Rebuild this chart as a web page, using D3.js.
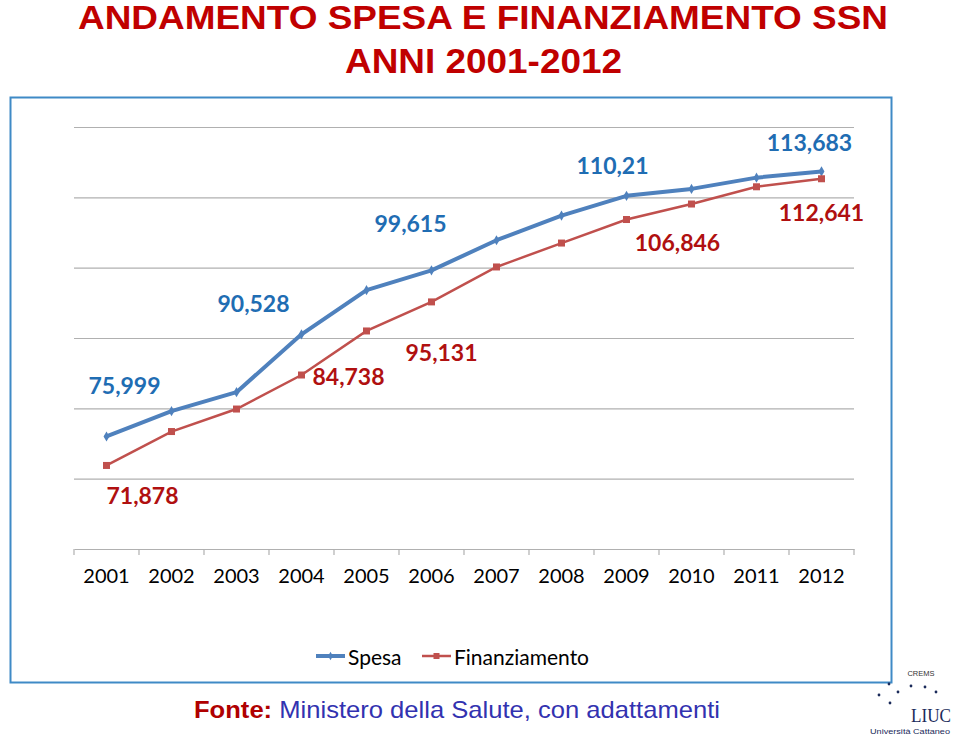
<!DOCTYPE html>
<html><head><meta charset="utf-8">
<script src="https://cdn.jsdelivr.net/npm/d3@7"></script>
<style>html,body{margin:0;padding:0;background:#fff;}svg{display:block;}</style>
</head><body>
<script>
const years = ["2001","2002","2003","2004","2005","2006","2007","2008","2009","2010","2011","2012"];
const spesa = [75.999, 79.6, 82.3, 90.528, 96.8, 99.615, 103.9, 107.4, 110.21, 111.2, 112.8, 113.683];
const finanziamento = [71.878, 76.7, 79.9, 84.738, 91.0, 95.131, 100.1, 103.5, 106.846, 109.05, 111.5, 112.641];
const labelYears = ["2001","2004","2006","2009","2012"];
const yTicks = [60, 70, 80, 90, 100, 110, 120];
const seriesNames = ["Spesa", "Finanziamento"];

const W = 960, H = 741;
const svg = d3.select("body").append("svg").attr("width", W).attr("height", H);

// Title
svg.append("text").attr("x", 78).attr("y", 29)
  .attr("textLength", 810).attr("lengthAdjust", "spacingAndGlyphs")
  .attr("font-family", "Liberation Sans, Arial, sans-serif").attr("font-weight", "bold")
  .attr("font-size", 33).attr("fill", "#C00000")
  .text("ANDAMENTO SPESA E FINANZIAMENTO SSN");
svg.append("text").attr("x", 345).attr("y", 73)
  .attr("textLength", 277).attr("lengthAdjust", "spacingAndGlyphs")
  .attr("font-family", "Liberation Sans, Arial, sans-serif").attr("font-weight", "bold")
  .attr("font-size", 35).attr("fill", "#C00000")
  .text("ANNI 2001-2012");

// Chart frame
svg.append("rect").attr("x", 10.5).attr("y", 97.5).attr("width", 881).attr("height", 585)
  .attr("fill", "#fff").attr("stroke", "#3F8AC6").attr("stroke-width", 2);

const x = d3.scaleBand().domain(years).range([74, 854]).padding(0);
const y = d3.scaleLinear().domain([60, 120]).range([549, 127]);
const cx = d => x(d) + x.bandwidth() / 2;

// Gridlines
const grid = svg.append("g").attr("transform", "translate(74,0)")
  .call(d3.axisLeft(y).tickValues(yTicks.slice(1)).tickSize(-780).tickFormat(""));
grid.select(".domain").remove();
grid.selectAll("line").attr("stroke", "#B0B0B0").attr("stroke-width", 1.2);

// X axis
const xa = svg.append("g").attr("transform", "translate(0,549)")
  .call(d3.axisBottom(x).tickSize(0).tickPadding(20));
xa.select(".domain").attr("stroke", "#B0B0B0").attr("stroke-width", 1.2);
xa.selectAll("text").attr("font-family", "Lato, sans-serif").attr("font-size", 20).attr("fill", "#000");
const bounds = years.map(d => x(d)).concat([x(years[years.length - 1]) + x.step()]);
xa.selectAll(".bt").data(bounds).enter().append("line")
  .attr("x1", d => d).attr("x2", d => d).attr("y1", 0).attr("y2", 6)
  .attr("stroke", "#B0B0B0").attr("stroke-width", 1.2);

// Lines
const line = d3.line().x((d, i) => cx(years[i])).y(d => y(d));
svg.append("path").datum(spesa).attr("d", line).attr("fill", "none")
  .attr("stroke", "#4F81BD").attr("stroke-width", 4).attr("stroke-linejoin", "round").attr("stroke-linecap", "round");
svg.append("path").datum(finanziamento).attr("d", line).attr("fill", "none")
  .attr("stroke", "#C0504D").attr("stroke-width", 2.5);

// Markers
svg.selectAll(".dm").data(spesa).enter().append("path")
  .attr("d", d3.symbol(d3.symbolDiamond, 30))
  .attr("transform", (d, i) => `translate(${cx(years[i])},${y(d)})`)
  .attr("fill", "#4F81BD");
svg.selectAll(".sq").data(finanziamento).enter().append("rect")
  .attr("x", (d, i) => cx(years[i]) - 3.5).attr("y", d => y(d) - 3.5)
  .attr("width", 7).attr("height", 7).attr("fill", "#C0504D");

// Data labels
const fmt = v => String(v).replace(".", ",");
const spOff = [[18, -51], [-48, -31], [-21, -47], [-14, -31], [-12, -29]];
const fiOff = [[36, 30], [47, 1], [10, 50], [51, 22], [0, 33]];
labelYears.forEach((yr, k) => {
  const i = years.indexOf(yr);
  svg.append("text").attr("x", cx(yr) + spOff[k][0]).attr("y", y(spesa[i]) + spOff[k][1])
    .attr("text-anchor", "middle").attr("dominant-baseline", "central")
    .attr("font-family", "Lato, sans-serif").attr("font-weight", "bold").attr("font-size", 23)
    .attr("fill", "#1F6DB3").text(fmt(spesa[i]));
  svg.append("text").attr("x", cx(yr) + fiOff[k][0]).attr("y", y(finanziamento[i]) + fiOff[k][1])
    .attr("text-anchor", "middle").attr("dominant-baseline", "central")
    .attr("font-family", "Lato, sans-serif").attr("font-weight", "bold").attr("font-size", 23)
    .attr("fill", "#B01010").text(fmt(finanziamento[i]));
});

// Legend
const leg = [{name: seriesNames[0], c: "#4F81BD", x: 316, w: 4, m: "d"},
             {name: seriesNames[1], c: "#C0504D", x: 422, w: 2.5, m: "s"}];
leg.forEach(l => {
  svg.append("line").attr("x1", l.x).attr("x2", l.x + 29).attr("y1", 656).attr("y2", 656)
    .attr("stroke", l.c).attr("stroke-width", l.w);
  if (l.m === "d") {
    svg.append("path").attr("d", d3.symbol(d3.symbolDiamond, 20)).attr("transform", `translate(${l.x + 14.5},656)`).attr("fill", l.c);
  } else {
    svg.append("rect").attr("x", l.x + 11.5).attr("y", 653).attr("width", 6).attr("height", 6).attr("fill", l.c);
  }
  svg.append("text").attr("x", l.x + 32).attr("y", 656).attr("dominant-baseline", "central")
    .attr("font-family", "Lato, sans-serif").attr("font-size", 21).attr("fill", "#000").text(l.name);
});

// Footer
const ft = svg.append("text").attr("x", 194).attr("y", 718)
  .attr("textLength", 526).attr("lengthAdjust", "spacingAndGlyphs")
  .attr("font-family", "Liberation Sans, Arial, sans-serif").attr("font-size", 24);
ft.append("tspan").attr("font-weight", "bold").attr("fill", "#B00000").text("Fonte:");
ft.append("tspan").attr("fill", "#3232B0").text(" Ministero della Salute, con adattamenti");

// Logo
svg.append("text").attr("x", 921).attr("y", 676).attr("text-anchor", "middle")
  .attr("font-family", "Liberation Sans, Arial, sans-serif").attr("font-size", 7.5).attr("fill", "#333").text("CREMS");
const dots = [[889,684],[911,686],[925,687],[936,692],[898,692],[879,695],[890,703]];
svg.selectAll(".dot").data(dots).enter().append("circle")
  .attr("cx", d => d[0]).attr("cy", d => d[1]).attr("r", 1.4).attr("fill", "#1a2a5a");
svg.append("text").attr("x", 931).attr("y", 722).attr("text-anchor", "middle")
  .attr("textLength", 40).attr("lengthAdjust", "spacingAndGlyphs")
  .attr("font-family", "Liberation Serif, serif").attr("font-size", 19).attr("fill", "#1a2a5a").text("LIUC");
svg.append("text").attr("x", 870).attr("y", 734)
  .attr("textLength", 80).attr("lengthAdjust", "spacingAndGlyphs")
  .attr("font-family", "Liberation Sans, Arial, sans-serif").attr("font-size", 7.5).attr("fill", "#1a2a5a").text("Università Cattaneo");
</script>
</body></html>
